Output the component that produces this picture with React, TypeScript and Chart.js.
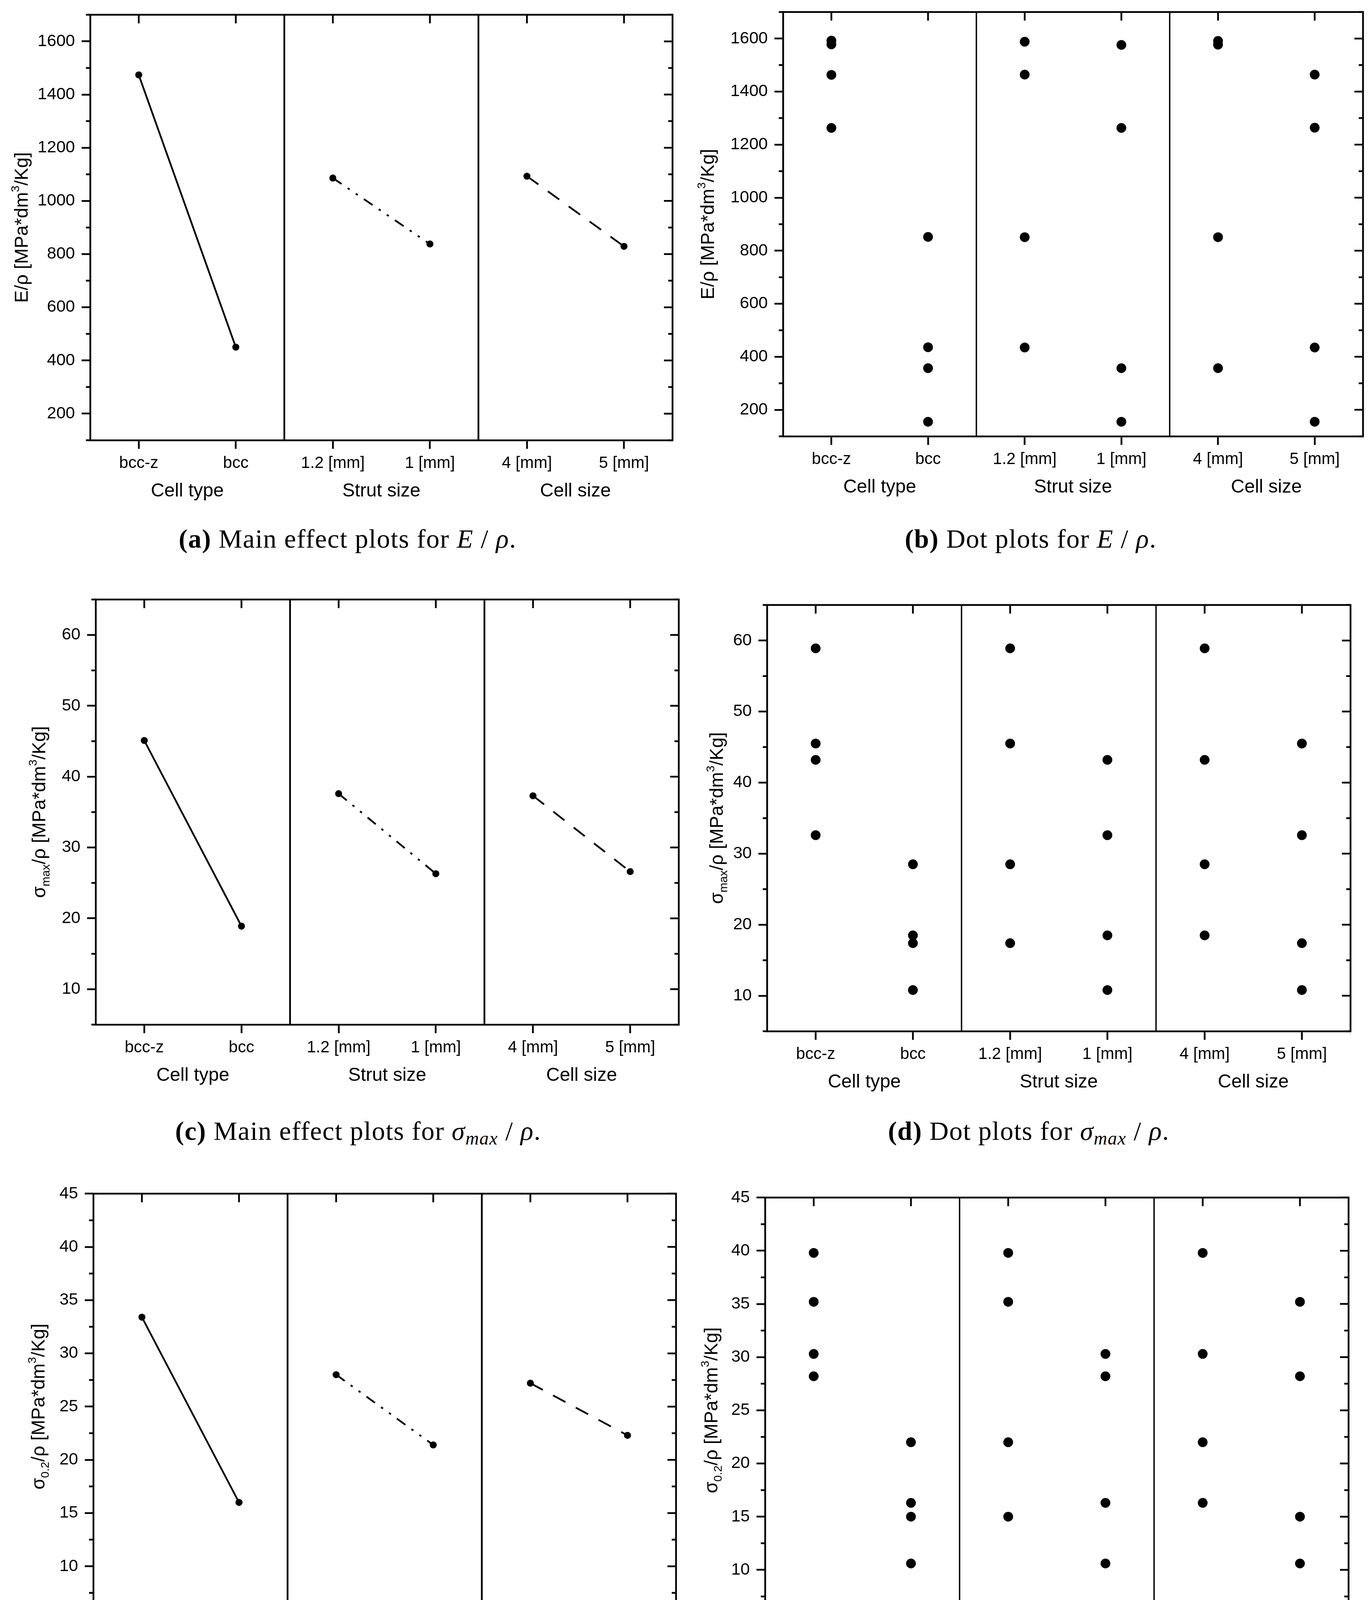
import { useEffect, useRef } from "react";
import { Chart, registerables } from "chart.js";

Chart.register(...registerables);

const SANS = '"Liberation Sans", Arial, sans-serif';
const SERIF = '"Liberation Serif", "Times New Roman", serif';

// shared x layout: six factor levels in three groups
const categories = ["bcc-z", "bcc", "1.2 [mm]", "1 [mm]", "4 [mm]", "5 [mm]"];
const factors = ["Cell type", "Strut size", "Cell size"];
const factorPositions = [0.5, 2.5, 4.5];
const dividers = [1.5, 3.5];

// main effect means (one per level)
const stiffnessMeans = [1474, 450, 1086, 838, 1093, 829];
const sigmaMaxMeans = [45.1, 18.9, 37.6, 26.3, 37.3, 26.6];
const sigma02Means = [33.4, 16.0, 28.0, 21.4, 27.2, 22.3];

// dot plots: four runs per level
const stiffnessDots = [
  [1592, 1578, 1463, 1263],
  [852, 436, 357, 155],
  [1588, 1464, 851, 435],
  [1576, 1263, 357, 155],
  [1591, 1577, 851, 357],
  [1464, 1264, 435, 155],
];
const sigmaMaxDots = [
  [58.9, 45.5, 43.2, 32.6],
  [28.5, 18.5, 17.4, 10.8],
  [58.9, 45.5, 28.5, 17.4],
  [43.2, 32.6, 18.5, 10.8],
  [58.9, 43.2, 28.5, 18.5],
  [45.5, 32.6, 17.4, 10.8],
];
const sigma02Dots = [
  [39.8, 35.2, 30.3, 28.2],
  [22.0, 16.3, 15.0, 10.6],
  [39.8, 35.2, 22.0, 15.0],
  [30.3, 28.2, 16.3, 10.6],
  [39.8, 30.3, 22.0, 16.3],
  [35.2, 28.2, 15.0, 10.6],
];

// y ticks
const stiffnessMajor = [200, 400, 600, 800, 1000, 1200, 1400, 1600];
const stiffnessMinor = [100, 300, 500, 700, 900, 1100, 1300, 1500, 1700];
const sigmaMaxMajor = [10, 20, 30, 40, 50, 60];
const sigmaMaxMinor = [5, 15, 25, 35, 45, 55, 65];
const sigma02Major = [5, 10, 15, 20, 25, 30, 35, 40, 45];
const sigma02Minor = [7.5, 12.5, 17.5, 22.5, 27.5, 32.5, 37.5, 42.5];

type Seg = { text: string; shift?: "sub" | "sup" };

const stiffnessTitle: Seg[] = [
  { text: "E/\u03c1 [MPa*dm" },
  { text: "3", shift: "sup" },
  { text: "/Kg]" },
];
const sigmaMaxTitle: Seg[] = [
  { text: "\u03c3" },
  { text: "max", shift: "sub" },
  { text: "/\u03c1 [MPa*dm" },
  { text: "3", shift: "sup" },
  { text: "/Kg]" },
];
const sigma02Title: Seg[] = [
  { text: "\u03c3" },
  { text: "0.2", shift: "sub" },
  { text: "/\u03c1 [MPa*dm" },
  { text: "3", shift: "sup" },
  { text: "/Kg]" },
];

const lineDashes = [[], [27, 19, 6, 19, 6, 19], [36, 30]];

const Y_WIDTH = 200;
const X_HEIGHT = 90;
const G_HEIGHT = 80;
const TOP_PAD = 40;
const AXIS_W = 4.5;

interface PanelProps {
  means?: number[];
  dots?: number[][];
  major: number[];
  minor: number[];
  yMin: number;
  yMax: number;
  title: Seg[];
  left: number;
  width: number;
  area: [number, number, number, number];
  titleOffset: number;
}

function Panel(props: PanelProps) {
  const ref = useRef<HTMLCanvasElement>(null);
  const [L, R, T, B] = props.area;
  const top = T - TOP_PAD;
  const height = TOP_PAD + (B - T) + X_HEIGHT + G_HEIGHT;

  useEffect(() => {
    if (!ref.current) return;
    const isDots = !!props.dots;

    const datasets: any[] = isDots
      ? [
          {
            data: props.dots!.flatMap((vals, i) => vals.map((v) => ({ x: i, y: v }))),
            showLine: false,
            pointRadius: 12.5,
            pointBackgroundColor: "#000",
            pointBorderWidth: 0,
            xAxisID: "x",
            yAxisID: "y",
          },
        ]
      : [0, 1, 2].map((k) => ({
          data: [
            { x: 2 * k, y: props.means![2 * k] },
            { x: 2 * k + 1, y: props.means![2 * k + 1] },
          ],
          showLine: true,
          borderColor: "#000",
          borderWidth: 4.5,
          borderDash: lineDashes[k],
          pointRadius: 9,
          pointBackgroundColor: "#000",
          pointBorderWidth: 0,
          xAxisID: "x",
          yAxisID: "y",
        }));

    const frame = {
      id: "frame",
      beforeDatasetsDraw(chart: any) {
        const { ctx, chartArea: a, scales } = chart;
        ctx.save();
        ctx.strokeStyle = "#000";
        ctx.lineWidth = isDots ? 3.5 : AXIS_W;
        ctx.beginPath();
        dividers.forEach((d) => {
          const px = scales.x.getPixelForValue(d);
          ctx.moveTo(px, a.top);
          ctx.lineTo(px, a.bottom);
        });
        ctx.stroke();
        ctx.restore();
      },
      afterDraw(chart: any) {
        const { ctx, chartArea: a, scales } = chart;
        const ys = scales.y;
        const xs = scales.x;
        ctx.save();
        ctx.strokeStyle = "#000";
        ctx.lineWidth = AXIS_W;
        ctx.lineCap = "square";
        ctx.beginPath();
        ctx.moveTo(a.left, a.top);
        ctx.lineTo(a.right, a.top);
        ctx.lineTo(a.right, a.bottom);
        ctx.stroke();
        ctx.lineCap = "butt";
        ctx.beginPath();
        props.minor.forEach((v) => {
          const py = ys.getPixelForValue(v);
          ctx.moveTo(a.left - 11, py);
          ctx.lineTo(a.left, py);
          ctx.moveTo(a.right, py);
          ctx.lineTo(a.right - 11, py);
        });
        props.major.forEach((v) => {
          const py = ys.getPixelForValue(v);
          ctx.moveTo(a.right, py);
          ctx.lineTo(a.right - 22, py);
        });
        categories.forEach((_, i) => {
          const px = xs.getPixelForValue(i);
          ctx.moveTo(px, a.top);
          ctx.lineTo(px, a.top + 22);
        });
        ctx.stroke();

        // rotated y title with sub/superscripts
        const base = 48;
        const small = 30;
        const fontFor = (s: Seg) => `${s.shift ? small : base}px ${SANS}`;
        let total = 0;
        const widths = props.title.map((s) => {
          ctx.font = fontFor(s);
          const w = ctx.measureText(s.text).width;
          total += w;
          return w;
        });
        ctx.translate(a.left + props.titleOffset, (a.top + a.bottom) / 2);
        ctx.rotate(-Math.PI / 2);
        ctx.fillStyle = "#000";
        ctx.textBaseline = "alphabetic";
        ctx.textAlign = "left";
        let cx = -total / 2;
        const baseline = 13;
        props.title.forEach((s, i) => {
          ctx.font = fontFor(s);
          const dy = s.shift === "sub" ? 11 : s.shift === "sup" ? -22 : 0;
          ctx.fillText(s.text, cx, baseline + dy);
          cx += widths[i];
        });
        ctx.restore();
      },
    };

    const chart = new Chart(ref.current, {
      type: "scatter",
      data: { datasets },
      options: {
        animation: false,
        responsive: false,
        devicePixelRatio: 1,
        events: [],
        layout: {
          padding: {
            left: L - props.left - Y_WIDTH,
            right: props.left + props.width - R,
            top: TOP_PAD,
            bottom: 0,
          },
        },
        plugins: { legend: { display: false }, tooltip: { enabled: false } },
        scales: {
          x: {
            type: "linear",
            position: "bottom",
            min: -0.5,
            max: 5.5,
            afterBuildTicks: (s: any) => {
              s.ticks = categories.map((_, i) => ({ value: i }));
            },
            afterFit: (s: any) => {
              s.height = X_HEIGHT;
            },
            ticks: {
              callback: (v: any) => categories[Number(v)] ?? "",
              font: { family: SANS, size: 42 },
              color: "#000",
              padding: 12,
              maxRotation: 0,
              autoSkip: false,
            },
            grid: {
              drawOnChartArea: false,
              drawTicks: true,
              tickLength: 22,
              tickWidth: AXIS_W,
              tickColor: "#000",
            },
            border: { display: true, color: "#000", width: AXIS_W },
          },
          x2: {
            type: "linear",
            position: "bottom",
            weight: 1,
            min: -0.5,
            max: 5.5,
            afterBuildTicks: (s: any) => {
              s.ticks = factorPositions.map((v) => ({ value: v }));
            },
            afterFit: (s: any) => {
              s.height = G_HEIGHT;
            },
            ticks: {
              callback: (v: any) => factors[factorPositions.indexOf(Number(v))] ?? "",
              font: { family: SANS, size: 48 },
              color: "#000",
              padding: 4,
              maxRotation: 0,
              autoSkip: false,
            },
            grid: { display: false },
            border: { display: false },
          },
          y: {
            type: "linear",
            position: "left",
            min: props.yMin,
            max: props.yMax,
            afterBuildTicks: (s: any) => {
              s.ticks = props.major.map((v) => ({ value: v }));
            },
            afterFit: (s: any) => {
              s.width = Y_WIDTH;
            },
            ticks: {
              callback: (v: any) => String(v),
              font: { family: SANS, size: 43 },
              color: "#000",
              padding: 17,
            },
            grid: {
              drawOnChartArea: false,
              drawTicks: true,
              tickLength: 22,
              tickWidth: AXIS_W,
              tickColor: "#000",
            },
            border: { display: true, color: "#000", width: AXIS_W },
          },
        },
      } as any,
      plugins: [frame],
    });

    return () => chart.destroy();
  }, []);

  return (
    <canvas
      ref={ref}
      width={props.width}
      height={height}
      style={{ position: "absolute", left: props.left, top, width: props.width, height }}
    />
  );
}

function Caption(props: { cx: number; cy: number; children: any }) {
  return (
    <div
      style={{
        position: "absolute",
        left: props.cx - 900,
        top: props.cy - 50,
        width: 1800,
        height: 100,
        lineHeight: "100px",
        textAlign: "center",
        fontFamily: SERIF,
        fontSize: 68,
        letterSpacing: 1.5,
        color: "#000",
        whiteSpace: "nowrap",
      }}
    >
      {props.children}
    </div>
  );
}

const subStyle = { fontSize: "0.7em", verticalAlign: "-0.25em", lineHeight: 0 };

export default function App() {
  return (
    <div
      style={{
        position: "absolute",
        left: 0,
        top: 0,
        width: 3513,
        height: 4461,
        background: "#fff",
        overflow: "hidden",
      }}
    >
      <Panel
        means={stiffnessMeans}
        major={stiffnessMajor}
        minor={stiffnessMinor}
        yMin={100}
        yMax={1700}
        title={stiffnessTitle}
        left={0}
        width={1756}
        area={[231, 1722, 35, 1127]}
        titleOffset={-173}
      />
      <Panel
        dots={stiffnessDots}
        major={stiffnessMajor}
        minor={stiffnessMinor}
        yMin={100}
        yMax={1700}
        title={stiffnessTitle}
        left={1756}
        width={1757}
        area={[2005, 3490, 28, 1117]}
        titleOffset={-190}
      />
      <Panel
        means={sigmaMaxMeans}
        major={sigmaMaxMajor}
        minor={sigmaMaxMinor}
        yMin={5}
        yMax={65}
        title={sigmaMaxTitle}
        left={0}
        width={1756}
        area={[245, 1738, 1532, 2623]}
        titleOffset={-142}
      />
      <Panel
        dots={sigmaMaxDots}
        major={sigmaMaxMajor}
        minor={sigmaMaxMinor}
        yMin={5}
        yMax={65}
        title={sigmaMaxTitle}
        left={1756}
        width={1757}
        area={[1964, 3458, 1546, 2640]}
        titleOffset={-126}
      />
      <Panel
        means={sigma02Means}
        major={sigma02Major}
        minor={sigma02Minor}
        yMin={5}
        yMax={45}
        title={sigma02Title}
        left={0}
        width={1756}
        area={[239, 1731, 3053, 4146]}
        titleOffset={-138}
      />
      <Panel
        dots={sigma02Dots}
        major={sigma02Major}
        minor={sigma02Minor}
        yMin={5}
        yMax={45}
        title={sigma02Title}
        left={1756}
        width={1757}
        area={[1959, 3453, 3063, 4155]}
        titleOffset={-135}
      />

      <Caption cx={890} cy={1379}>
        <b>(a)</b> Main effect plots for <i>E</i> / <i>ρ</i>.
      </Caption>
      <Caption cx={2639} cy={1379}>
        <b>(b)</b> Dot plots for <i>E</i> / <i>ρ</i>.
      </Caption>
      <Caption cx={917} cy={2895}>
        <b>(c)</b> Main effect plots for <i>σ<span style={subStyle}>max</span></i> / <i>ρ</i>.
      </Caption>
      <Caption cx={2634} cy={2895}>
        <b>(d)</b> Dot plots for <i>σ<span style={subStyle}>max</span></i> / <i>ρ</i>.
      </Caption>
      <Caption cx={918} cy={4396}>
        <b>(e)</b> Main effect plots for <i>σ</i>
        <span style={subStyle}>0.2</span> / <i>ρ</i>.
      </Caption>
      <Caption cx={2631} cy={4396}>
        <b>(f)</b> Dot plots for <i>σ</i>
        <span style={subStyle}>0.2</span> / <i>ρ</i>.
      </Caption>
    </div>
  );
}
